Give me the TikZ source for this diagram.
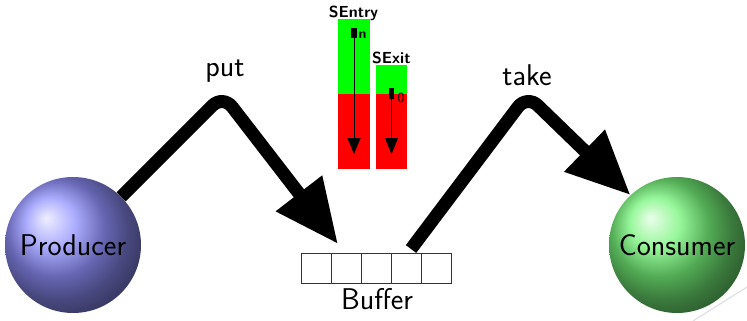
\documentclass[tikz,border=0pt]{standalone}
\usepackage{fontspec}
\usetikzlibrary{arrows.meta}
\begin{document}
\begin{tikzpicture}[x=1pt,y=-1pt,
  lbl/.style={font=\sffamily\fontsize{30}{34}\selectfont, inner sep=0pt},
  semlbl/.style={font=\sffamily\bfseries\fontsize{16}{18}\selectfont, inner sep=0pt},
  cntlbl/.style={font=\sffamily\fontsize{14}{16}\selectfont, inner sep=0pt},
  agent/.style={circle, minimum size=136pt, inner sep=0pt, shading=ball,
    font=\sffamily\fontsize{30}{34}\selectfont},
  cell/.style={draw=black!80, line width=0.8pt, minimum width=30pt, minimum height=30pt, inner sep=0pt},
  flow/.style={line width=13pt, rounded corners=15pt, -{Triangle[length=64pt,width=55pt]}},
  semarrow/.style={line width=0.9pt, -{Triangle[length=16pt,width=13pt]}},
  marker/.style={fill=black, minimum width=5.5pt, minimum height=10.5pt, inner sep=0pt}
]
\useasboundingbox (0,0) rectangle (747,321);

% faint edge stroke at the lower right
\draw[black!12, line width=1.2pt] (693,321) -- (747,287);

% processes
\node[agent, ball color={rgb,255:red,145;green,145;blue,255}] (producer) at (73,245) {Producer};
\node[agent, ball color={rgb,255:red,118;green,245;blue,122}] (consumer) at (677,245) {Consumer};

% buffer cells
\foreach \i in {1,...,5}
  \node[cell] (cell\i) at ({286+30*\i},268) {};
\node[lbl] (buflbl) at (377,299) {Buffer};

% semaphores
\fill[green] (338,19) rectangle (370,94);
\fill[red] (338,94) rectangle (370,169);
\fill[green] (376,65) rectangle (407,94);
\fill[red] (376,94) rectangle (407,169);
\node[semlbl] (sentry) at (353.5,13) {SEntry};
\node[semlbl] (sexit) at (391.5,58) {SExit};
\node[marker] (mentry) at (354,33) {};
\node[marker] (mexit) at (391.5,93.5) {};
\node[cntlbl, font=\sffamily\bfseries\fontsize{14}{16}\selectfont] (nlbl) at (362.5,35) {n};
\node[cntlbl] (zlbl) at (401,98) {0};
\coordinate (entryend) at (354,154);
\coordinate (exitend) at (391.5,154);
\draw[semarrow] (mentry.center) -- (entryend);
\draw[semarrow] (mexit.center) -- (exitend);

% put / take
\coordinate (putpeak) at (223,95);
\coordinate (puttip) at (338,244);
\coordinate (takestart) at (411,249);
\coordinate (takepeak) at (527,95);
\draw[flow] (producer.45) -- (putpeak) -- (puttip);
\draw[flow] (takestart) -- (takepeak) -- (consumer.133);
\node[lbl] (putlbl) at (225,71) {put};
\node[lbl] (takelbl) at (527,75) {take};
\end{tikzpicture}
\end{document}
